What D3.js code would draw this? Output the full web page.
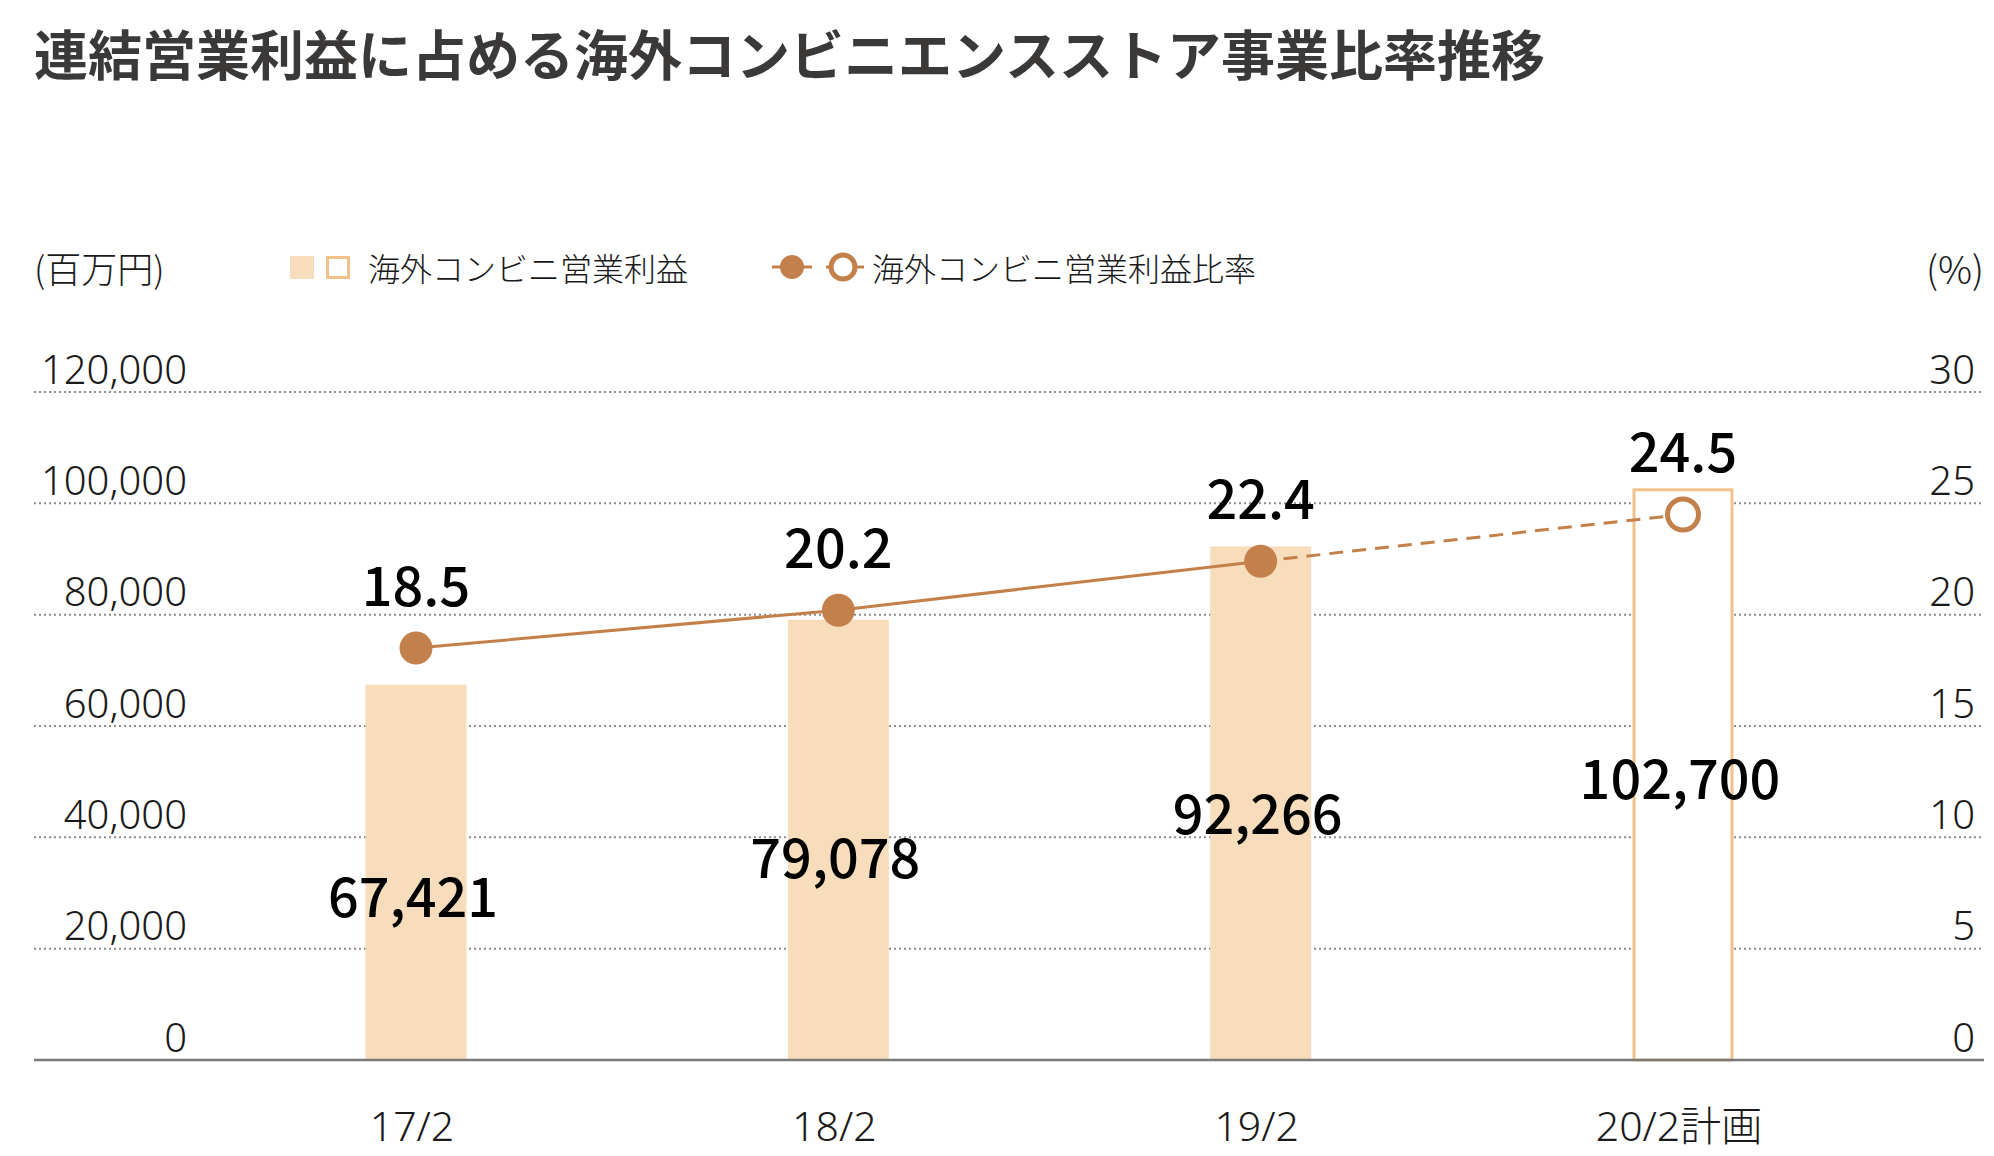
<!DOCTYPE html>
<html>
<head>
    <meta charset="utf-8">
    <title>連結営業利益に占める海外コンビニエンスストア事業比率推移</title>
    <script src="https://cdnjs.cloudflare.com/ajax/libs/d3/7.8.5/d3.min.js"></script>
    <style>
    body{ margin: 0; background: #fff; }
    svg{ display: block; font-family: "Noto Sans CJK JP", "Noto Sans", sans-serif; }
    </style>
</head>
<body>
    <svg width="1994" height="1156"></svg>
    <script>
        // data
        var categories = ["17/2", "18/2", "19/2", "20/2計画"];
        var profit = [67421, 79078, 92266, 102700];     // 百万円
        var ratio = [18.5, 20.2, 22.4, 24.5];           // %
        var planned = [false, false, false, true];
        var leftTicks = [0, 20000, 40000, 60000, 80000, 100000, 120000];
        var rightTicks = [0, 5, 10, 15, 20, 25, 30];
        var legendLabels = ["海外コンビニ営業利益", "海外コンビニ営業利益比率"];

        var barFill = "#f7ddbb", barStroke = "#f1c38b", lineColor = "#c4804a";
        var numFont = "'Noto Sans', 'Noto Sans CJK JP', sans-serif";

        var svg = d3.select("svg");
        var rows = categories.map(function(c, i){
            return {cat: c, profit: profit[i], ratio: ratio[i], plan: planned[i]};
        });

        var x = d3.scalePoint().domain(categories).range([416, 1683]);
        var yL = d3.scaleLinear().domain([0, 120000]).range([1060, 392]);
        var yR = d3.scaleLinear().domain([0, 30]).range([1060, 392]);
        var barW = 101;

        // title
        svg.append("text")
            .attr("x", 34).attr("y", 52)
            .attr("dominant-baseline", "central")
            .attr("font-size", 54).attr("font-weight", 700)
            .attr("fill", "#3b3838")
            .text("連結営業利益に占める海外コンビニエンスストア事業比率推移");

        // gridlines
        svg.append("g").selectAll("line")
            .data(leftTicks.filter(function(d){ return d > 0; }))
            .enter().append("line")
            .attr("x1", 34).attr("x2", 1984)
            .attr("y1", function(d){ return yL(d); })
            .attr("y2", function(d){ return yL(d); })
            .attr("stroke", "#8c8c8c").attr("stroke-width", 2)
            .attr("stroke-dasharray", "2,3");

        // axis labels
        var axL = svg.append("g").attr("transform", "translate(187,0)")
            .call(d3.axisLeft(yL).tickValues(leftTicks).tickFormat(d3.format(",")).tickSize(0).tickPadding(0));
        var axR = svg.append("g").attr("transform", "translate(1975,0)")
            .call(d3.axisLeft(yR).tickValues(rightTicks).tickFormat(d3.format("d")).tickSize(0).tickPadding(0));
        [axL, axR].forEach(function(ax){
            ax.select(".domain").remove();
            ax.selectAll("text")
                .attr("dy", -9)
                .attr("font-size", 40).attr("font-weight", 300)
                .attr("font-family", numFont)
                .attr("fill", "#1a1a1a");
        });

        svg.append("text").attr("x", 34).attr("y", 267)
            .attr("dominant-baseline", "central")
            .attr("font-size", 36).attr("font-weight", 300).attr("fill", "#1a1a1a")
            .text("(百万円)");
        svg.append("text").attr("x", 1984).attr("y", 267)
            .attr("dominant-baseline", "central").attr("text-anchor", "end")
            .attr("font-size", 38).attr("font-weight", 300).attr("fill", "#1a1a1a")
            .text("(%)");

        // legend
        var lg = svg.append("g");
        lg.append("rect").attr("x", 290).attr("y", 256).attr("width", 24).attr("height", 23).attr("fill", barFill);
        lg.append("rect").attr("x", 327.5).attr("y", 257.5).attr("width", 21).attr("height", 20)
            .attr("fill", "#fff").attr("stroke", barStroke).attr("stroke-width", 3);
        lg.append("text").attr("x", 368).attr("y", 267)
            .attr("dominant-baseline", "central")
            .attr("font-size", 32).attr("font-weight", 300).attr("fill", "#1a1a1a")
            .text(legendLabels[0]);
        lg.append("line").attr("x1", 772).attr("x2", 864).attr("y1", 267).attr("y2", 267)
            .attr("stroke", lineColor).attr("stroke-width", 3);
        lg.append("rect").attr("x", 812).attr("y", 262).attr("width", 14).attr("height", 10).attr("fill", "#fff");
        lg.append("circle").attr("cx", 792).attr("cy", 267).attr("r", 12).attr("fill", lineColor);
        lg.append("circle").attr("cx", 843).attr("cy", 267).attr("r", 12)
            .attr("fill", "#fff").attr("stroke", lineColor).attr("stroke-width", 5);
        lg.append("text").attr("x", 872).attr("y", 267)
            .attr("dominant-baseline", "central")
            .attr("font-size", 32).attr("font-weight", 300).attr("fill", "#1a1a1a")
            .text(legendLabels[1]);

        // bars
        svg.append("g").selectAll("rect")
            .data(rows).enter().append("rect")
            .attr("x", function(d){ return x(d.cat) - barW / 2 + (d.plan ? 1.5 : 0); })
            .attr("y", function(d){ return yL(d.profit) + (d.plan ? 1.5 : 0); })
            .attr("width", function(d){ return d.plan ? barW - 3 : barW; })
            .attr("height", function(d){ return yL(0) - yL(d.profit) - (d.plan ? 1.5 : 0); })
            .attr("fill", function(d){ return d.plan ? "#fff" : barFill; })
            .attr("stroke", function(d){ return d.plan ? barStroke : "none"; })
            .attr("stroke-width", 3);

        // baseline
        svg.append("line").attr("x1", 34).attr("x2", 1984)
            .attr("y1", yL(0)).attr("y2", yL(0))
            .attr("stroke", "#7a7a7a").attr("stroke-width", 2.5);

        // category labels
        svg.append("g").selectAll("text")
            .data(rows).enter().append("text")
            .attr("x", function(d){ return x(d.cat) - 4; })
            .attr("y", 1141)
            .attr("text-anchor", "middle")
            .attr("font-family", numFont)
            .attr("font-size", 41).attr("font-weight", 300).attr("fill", "#1a1a1a")
            .text(function(d){ return d.cat; });

        // ratio line: solid for actuals, dashed toward plan
        var line = d3.line()
            .x(function(d){ return x(d.cat); })
            .y(function(d){ return yR(d.ratio); });
        var actual = rows.filter(function(d){ return !d.plan; });
        svg.append("path").datum(actual)
            .attr("d", line).attr("fill", "none")
            .attr("stroke", lineColor).attr("stroke-width", 3);
        svg.append("path").datum(rows.slice(actual.length - 1))
            .attr("d", line).attr("fill", "none")
            .attr("stroke", lineColor).attr("stroke-width", 3)
            .attr("stroke-dasharray", "14,9");

        svg.append("g").selectAll("circle")
            .data(rows).enter().append("circle")
            .attr("cx", function(d){ return x(d.cat); })
            .attr("cy", function(d){ return yR(d.ratio); })
            .attr("r", function(d){ return d.plan ? 15.5 : 16.5; })
            .attr("fill", function(d){ return d.plan ? "#fff" : lineColor; })
            .attr("stroke", function(d){ return d.plan ? lineColor : "none"; })
            .attr("stroke-width", 5);

        // value labels
        svg.append("g").selectAll("text")
            .data(rows).enter().append("text")
            .attr("x", function(d){ return x(d.cat); })
            .attr("y", function(d){ return yR(d.ratio) - 42; })
            .attr("text-anchor", "middle")
            .attr("font-size", 54).attr("font-weight", 500).attr("fill", "#000")
            .text(function(d){ return d3.format(".1f")(d.ratio); });

        svg.append("g").selectAll("text")
            .data(rows).enter().append("text")
            .attr("x", function(d){ return x(d.cat) - 3; })
            .attr("y", function(d){ return yL(d.profit * 0.6) + 82; })
            .attr("text-anchor", "middle")
            .attr("font-size", 54).attr("font-weight", 500).attr("fill", "#000")
            .text(function(d){ return d3.format(",")(d.profit); });
    </script>
</body>
</html>
